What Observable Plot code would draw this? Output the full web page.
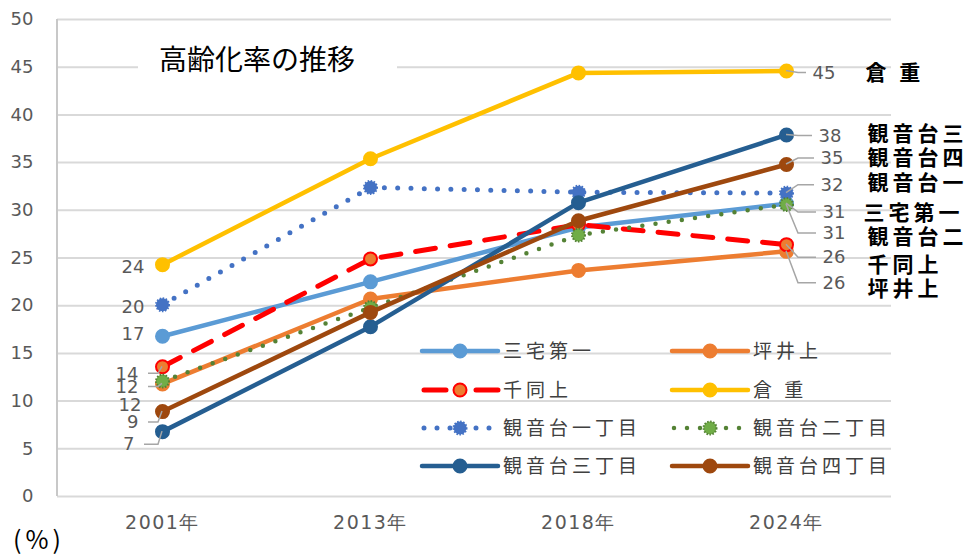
<!DOCTYPE html>
<html><head><meta charset="utf-8">
<script src="https://cdn.jsdelivr.net/npm/d3@7"></script>
<script src="https://cdn.jsdelivr.net/npm/@observablehq/plot@0.6"></script>
<style>
html,body{margin:0;padding:0;background:#fff;}
#chart{position:relative;width:968px;height:557px;overflow:hidden;}
</style></head><body><div id="chart"></div>
<script>
// ---------- data ----------
const years = ["2001年", "2013年", "2018年", "2024年"];
const yTicks = [0, 5, 10, 15, 20, 25, 30, 35, 40, 45, 50];
const seriesNames = ["三宅第一", "坪井上", "千同上", "倉 重", "観音台一丁目", "観音台二丁目", "観音台三丁目", "観音台四丁目"];
const endNames = ["三宅第一", "坪井上", "千同上", "倉 重", "観音台一", "観音台二", "観音台三", "観音台四"];
const miyakeDaiichi = [16.8, 22.5, 28.2, 30.7];
const tsuboiKami    = [11.8, 20.7, 23.7, 25.7];
const sendoKami     = [13.6, 24.9, 28.5, 26.4];
const kurashige     = [24.3, 35.4, 44.4, 44.6];
const kannondai1    = [20.1, 32.4, 31.9, 31.8];
const kannondai2    = [12.1, 19.8, 27.4, 30.6];
const kannondai3    = [6.8, 17.8, 30.8, 37.9];
const kannondai4    = [8.9, 19.3, 28.9, 34.8];
const seriesValues = [miyakeDaiichi, tsuboiKami, sendoKami, kurashige, kannondai1, kannondai2, kannondai3, kannondai4];
const title = "高齢化率の推移";
const unitLabel = "(%)";

// ---------- styles ----------
const styles = [
  {color: "#5b9bd5", width: 4.5, dash: null, legendDash: null, mFill: "#5b9bd5", mStroke: "#5b9bd5", mDash: null},
  {color: "#ed7d31", width: 4.5, dash: null, legendDash: null, mFill: "#ed7d31", mStroke: "#ed7d31", mDash: null},
  {color: "#ff0000", width: 5, dash: "20,15", legendDash: "22,30", mFill: "#ed7d31", mStroke: "#ff0000", mDash: null},
  {color: "#ffc000", width: 4.5, dash: null, legendDash: null, mFill: "#ffc000", mStroke: "#ffc000", mDash: null},
  {color: "#4472c4", width: 5, dash: "0,13.3", legendDash: "0,13", mFill: "#4472c4", mStroke: "#4472c4", mDash: "1.5,1.5"},
  {color: "#548235", width: 4.5, dash: "0,13.3", legendDash: "0,13", mFill: "#70ad47", mStroke: "#548235", mDash: "1.5,1.5"},
  {color: "#255e91", width: 4.5, dash: null, legendDash: null, mFill: "#255e91", mStroke: "#255e91", mDash: null},
  {color: "#9e480e", width: 4.5, dash: null, legendDash: null, mFill: "#9e480e", mStroke: "#9e480e", mDash: null}
];
// label layout (px offsets from the point): [dx, dy, leader]
const leftLayout  = [[-18, -2, false], [-24, 3, true], [-24, 7, true], [-18, 3, false], [-18, 2, false], [-21, 24, false], [-28, 13, true], [-24, 11, true]];
const rightLayout = [[36, 9], [36, 32], [36, 13], [26, 2], [34, -8], [36, 29], [32, 1], [34, -6]];
const nameLayout  = [[77, 10], [81, 38], [81, 21], [79, 2], [81, -10], [81, 33], [81, -1], [81, -6]];

const CJK = "'Noto Sans CJK JP', 'Noto Sans CJK SC', sans-serif";
const NUM = "'DejaVu Sans', sans-serif";

const rows = seriesNames.flatMap((s, i) => years.map((y, j) => ({series: s, idx: i, year: y, value: seriesValues[i][j]})));

const marks = [
  Plot.ruleY(yTicks, {stroke: "#d9d9d9", strokeWidth: 2}),
  Plot.axisY({ticks: yTicks, tickSize: 0, tickPadding: 24, fontSize: 18, fontFamily: NUM, fill: "#595959"}),
  Plot.axisX({tickSize: 0, tickPadding: 19, fontSize: 19, fontFamily: NUM, fill: "#595959"})
];
seriesNames.forEach((s, i) => {
  const st = styles[i];
  const d = rows.filter(r => r.idx === i);
  marks.push(Plot.line(d, {x: "year", y: "value", stroke: st.color, strokeWidth: st.width,
    strokeDasharray: st.dash, strokeLinecap: "round", strokeLinejoin: "round"}));
  marks.push(Plot.dot(d, {x: "year", y: "value", r: 6.5, fill: st.mFill, stroke: st.mStroke,
    strokeWidth: 2, strokeDasharray: st.mDash}));
});
seriesNames.forEach((s, i) => {
  const first = rows.filter(r => r.idx === i && r.year === years[0]);
  const last = rows.filter(r => r.idx === i && r.year === years[years.length - 1]);
  marks.push(Plot.text(first, {x: "year", y: "value", text: d => String(Math.round(d.value)),
    dx: leftLayout[i][0], dy: leftLayout[i][1], textAnchor: "end", fill: "#595959", fontSize: 18, fontFamily: NUM}));
  marks.push(Plot.text(last, {x: "year", y: "value", text: d => String(Math.round(d.value)),
    dx: rightLayout[i][0], dy: rightLayout[i][1], textAnchor: "start", fill: "#595959", fontSize: 18, fontFamily: NUM}));
  marks.push(Plot.text(last, {x: "year", y: "value", text: () => endNames[i],
    dx: nameLayout[i][0], dy: nameLayout[i][1], textAnchor: "start", fill: "#000", fontSize: 21,
    fontWeight: "bold", fontFamily: CJK}));
});

const chart = Plot.plot({
  width: 968, height: 557,
  marginLeft: 57, marginRight: 77, marginTop: 19, marginBottom: 61,
  style: {background: "#fff", fontFamily: NUM, overflow: "visible"},
  x: {type: "point", domain: years, padding: 0.5, label: null, axis: null},
  y: {domain: [0, 50], label: null, axis: null},
  marks
});
document.getElementById("chart").appendChild(chart);

// letter spacing tweaks for x tick labels and end names
d3.select(chart).selectAll("text").each(function () {
  const t = this.textContent;
  if (/年$/.test(t)) this.setAttribute("letter-spacing", "1.5");
  if (endNames.includes(t)) this.setAttribute("letter-spacing", "4");
});

// ---------- decorations using the plot's scales ----------
const xs = chart.scale("x"), ys = chart.scale("y");
const svg = d3.select(chart);
const leftEdge = Math.min(...xs.range);
// y axis line
svg.append("line").attr("x1", leftEdge).attr("x2", leftEdge)
  .attr("y1", ys.apply(50)).attr("y2", ys.apply(0))
  .attr("stroke", "#c8c8c8").attr("stroke-width", 2);

// leader lines
const leaderG = svg.append("g").attr("stroke", "#a6a6a6").attr("stroke-width", 1.5).attr("fill", "none");
seriesNames.forEach((s, i) => {
  const v0 = seriesValues[i][0], v1 = seriesValues[i][years.length - 1];
  const px0 = xs.apply(years[0]), py0 = ys.apply(v0);
  if (leftLayout[i][2]) {
    const ly = py0 + leftLayout[i][1];
    leaderG.append("polyline").attr("points", [[px0, py0], [px0 - 4, ly], [px0 + leftLayout[i][0] + 10, ly]].join(" "));
  }
  const px1 = xs.apply(years[years.length - 1]), py1 = ys.apply(v1);
  const ry = py1 + rightLayout[i][1];
  leaderG.append("polyline").attr("points", [[px1, py1], [px1 + 12, ry], [px1 + rightLayout[i][0] - 6, ry]].join(" "));
});

// title
svg.append("rect").attr("x", 138).attr("y", 42).attr("width", 259).attr("height", 36).attr("fill", "#fff");
svg.append("text").attr("x", 159).attr("y", 60).attr("dy", "0.36em").attr("text-anchor", "start")
  .attr("font-family", CJK).attr("font-size", 28).attr("fill", "#000").text(title);
// unit
svg.append("text").attr("x", 13).attr("y", 540).attr("dy", "0.36em").attr("text-anchor", "start")
  .attr("font-family", CJK).attr("font-size", 25).attr("letter-spacing", 4).attr("fill", "#000").text(unitLabel);

// legend
const lg = svg.append("g");
const colX = [422, 672], rowY = [351, 390, 428, 466];
seriesNames.forEach((s, i) => {
  const st = styles[i];
  const gx = colX[i % 2], gy = rowY[Math.floor(i / 2)];
  const g = lg.append("g").attr("transform", `translate(${gx},${gy})`);
  g.append("line").attr("x1", st.legendDash ? 2 : 0).attr("x2", 76).attr("y1", 0).attr("y2", 0)
    .attr("stroke", st.color).attr("stroke-width", st.width)
    .attr("stroke-linecap", "round")
    .attr("stroke-dasharray", st.legendDash);
  g.append("circle").attr("cx", 38).attr("cy", 0).attr("r", 6.5)
    .attr("fill", st.mFill).attr("stroke", st.mStroke).attr("stroke-width", 2)
    .attr("stroke-dasharray", st.mDash);
  g.append("text").attr("x", 81).attr("y", 0).attr("dy", "0.36em").attr("text-anchor", "start")
    .attr("font-family", CJK).attr("font-size", 19).attr("letter-spacing", 4)
    .attr("fill", "#404040").text(s);
});
</script></body></html>
